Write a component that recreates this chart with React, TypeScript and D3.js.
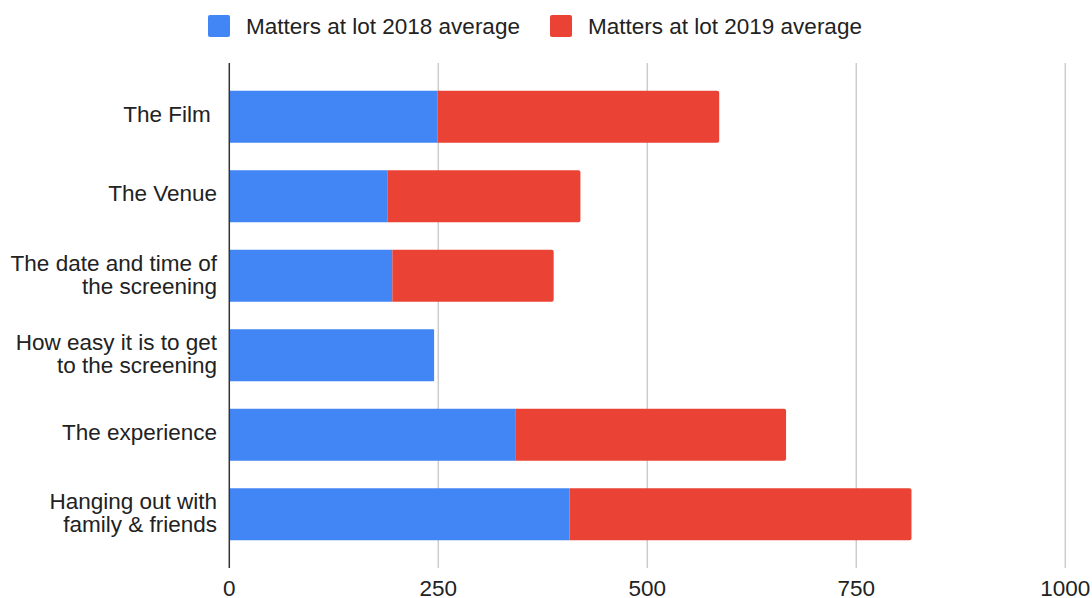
import React from "react";
import * as d3 from "d3";

const categories = [
  ["The Film "],
  ["The Venue"],
  ["The date and time of", "the screening"],
  ["How easy it is to get", "to the screening"],
  ["The experience"],
  ["Hanging out with", "family & friends"],
];
const avg2018 = [249, 189, 195, 245, 342, 407];
const avg2019 = [337, 231, 193, 0, 324, 409];
const seriesNames = ["Matters at lot 2018 average", "Matters at lot 2019 average"];
const seriesColors = ["#4285F4", "#EA4335"];
const xTicks = [0, 250, 500, 750, 1000];

const W = 1092;
const H = 598;
const FONT = "'Liberation Sans', Arial, sans-serif";
const FS = 22.5;

// right-rounded bar segment
function segPath(x0: number, x1: number, y: number, h: number, r: number) {
  const rr = Math.min(r, (x1 - x0) / 2);
  return `M${x0},${y}H${x1 - rr}Q${x1},${y} ${x1},${y + rr}V${y + h - rr}Q${x1},${y + h} ${x1 - rr},${y + h}H${x0}Z`;
}

export default function App() {
  const x = d3.scaleLinear().domain([0, 1000]).range([229.3, 1065.3]);
  const ids = categories.map((_, i) => String(i));
  const y = d3
    .scaleBand<string>()
    .domain(ids)
    .range([63, 568])
    .paddingInner(0.346)
    .paddingOuter(0.349);
  const bw = y.bandwidth();

  return (
    <svg
      width={W}
      height={H}
      style={{ position: "absolute", left: 0, top: 0, background: "#fff" }}
      fontFamily={FONT}
    >
      {/* legend */}
      {seriesNames.map((name, i) => {
        const lx = i === 0 ? 208 : 550;
        return (
          <g key={name}>
            <rect x={lx} y={15} width={22} height={22} rx={2} fill={seriesColors[i]} />
            <text x={lx + 38} y={34} fontSize={FS} fill="#222">
              {name}
            </text>
          </g>
        );
      })}

      {/* gridlines */}
      {xTicks.slice(1).map((t) => (
        <line
          key={t}
          x1={x(t)}
          x2={x(t)}
          y1={63}
          y2={568}
          stroke="#cccccc"
          strokeWidth={1.5}
        />
      ))}

      {/* bars */}
      {ids.map((id, i) => {
        const yy = y(id)!;
        const a = avg2018[i];
        const b = avg2019[i];
        const endA = x(a);
        const endB = x(a + b);
        return (
          <g key={id}>
            {b > 0 ? (
              <>
                <rect x={x(0)} y={yy} width={endA - x(0)} height={bw} fill={seriesColors[0]} />
                <path d={segPath(endA, endB, yy, bw, 2)} fill={seriesColors[1]} />
              </>
            ) : (
              <path d={segPath(x(0), endA, yy, bw, 1)} fill={seriesColors[0]} />
            )}
          </g>
        );
      })}

      {/* baseline axis */}
      <line x1={x(0)} x2={x(0)} y1={63} y2={568} stroke="#333" strokeWidth={1.5} />

      {/* category labels */}
      {categories.map((lines, i) => {
        const cy = y(ids[i])! + bw / 2;
        const lh = 23;
        const first = lines.length === 1 ? cy + 5 : cy - 5;
        return (
          <text
            key={i}
            x={217}
            textAnchor="end"
            fontSize={FS}
            fill="#222"
            style={{ whiteSpace: "pre" }}
          >
            {lines.map((l, j) => (
              <tspan key={j} x={217} y={first + j * lh} style={{ whiteSpace: "pre" }}>
                {l}
              </tspan>
            ))}
          </text>
        );
      })}

      {/* x tick labels */}
      {xTicks.map((t) => (
        <text key={t} x={x(t)} y={596} textAnchor="middle" fontSize={FS} fill="#222">
          {t}
        </text>
      ))}
    </svg>
  );
}
